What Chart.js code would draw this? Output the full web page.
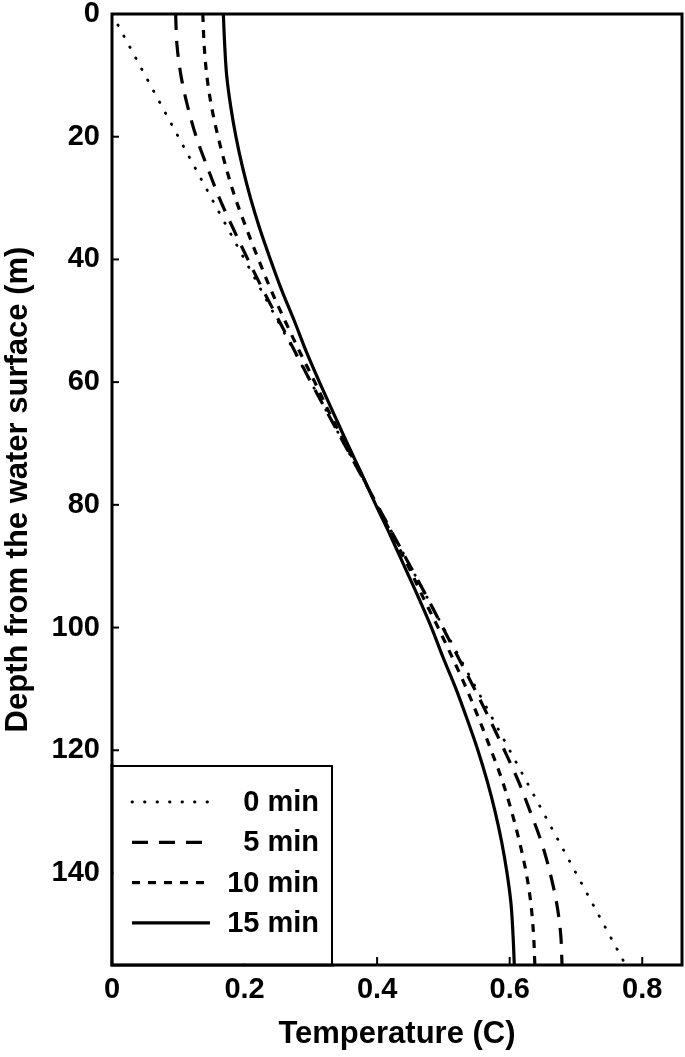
<!DOCTYPE html>
<html><head><meta charset="utf-8">
<script src="https://cdn.jsdelivr.net/npm/chart.js@4.4.1/dist/chart.umd.min.js"></script>
<style>html,body{margin:0;padding:0;background:#fff;}#wrap{width:685px;height:1057px;position:relative;}</style>
</head><body><div id="wrap"><canvas id="c" width="685" height="1057"></canvas></div>
<script>
// ---- data ----
const depths = [0,5,10,15,20,25,30,35,40,45,50,55,60,65,70,75,77.5,80,85,90,95,100,105,110,115,120,125,130,135,140,145,150,155];
const depth0 = [0, 155];
const temp0min = [0, 0.775];
const temp5min = [0.096,0.098,0.104,0.114,0.127,0.144,0.162,0.183,0.205,0.228,0.252,0.276,0.300,0.325,0.350,0.375,0.3875,
                  0.400,0.425,0.450,0.475,0.499,0.523,0.547,0.570,0.592,0.613,0.631,0.648,0.661,0.671,0.677,0.679];
const temp10min = [0.137,0.139,0.143,0.150,0.160,0.172,0.186,0.203,0.221,0.240,0.261,0.283,0.306,0.328,0.352,0.376,0.3875,
                   0.399,0.423,0.447,0.469,0.492,0.514,0.535,0.554,0.572,0.589,0.603,0.615,0.625,0.632,0.636,0.638];
const temp15min = [0.168,0.170,0.173,0.179,0.187,0.197,0.209,0.223,0.239,0.256,0.275,0.293,0.313,0.334,0.355,0.377,0.3875,
                   0.398,0.420,0.441,0.462,0.482,0.500,0.519,0.536,0.552,0.566,0.578,0.588,0.596,0.602,0.605,0.607];
const seriesLabels = ['0 min', '5 min', '10 min', '15 min'];
const xTickValues = [0, 0.2, 0.4, 0.6, 0.8];
const yTickValues = [0, 20, 40, 60, 80, 100, 120, 140];
const xRange = [0, 0.86];
const yRange = [0, 155];
const xTitle = 'Temperature (C)';
const yTitle = 'Depth from the water surface (m)';

const FONT = "'Liberation Sans', Arial, Helvetica, sans-serif";
const pts = (ds, ts) => ds.map((d, i) => ({x: ts[i], y: d}));

const styles = [
  {borderDash: [0.5, 12], borderWidth: 2.8, borderCapStyle: 'round'},
  {borderDash: [16, 11], borderWidth: 3.2, borderCapStyle: 'butt'},
  {borderDash: [8, 8], borderWidth: 3.2, borderCapStyle: 'butt'},
  {borderDash: [], borderWidth: 3.2, borderCapStyle: 'butt'}
];
const seriesData = [pts(depth0, temp0min), pts(depths, temp5min), pts(depths, temp10min), pts(depths, temp15min)];

const datasets = seriesData.map((d, i) => Object.assign({
  label: seriesLabels[i], data: d, borderColor: '#000', backgroundColor: '#000',
  pointRadius: 0, fill: false, cubicInterpolationMode: 'monotone'
}, styles[i]));

const framePlugin = {
  id: 'frame',
  afterDatasetsDraw(chart) {
    const {ctx, chartArea: a, scales: {x, y}} = chart;
    ctx.save();
    ctx.strokeStyle = '#000';
    ctx.setLineDash([]);
    ctx.lineWidth = 2;
    xTickValues.forEach(v => { const p = x.getPixelForValue(v); ctx.beginPath(); ctx.moveTo(p, a.bottom); ctx.lineTo(p, a.bottom - 8); ctx.stroke(); });
    yTickValues.forEach(v => { const p = y.getPixelForValue(v); ctx.beginPath(); ctx.moveTo(a.left, p); ctx.lineTo(a.left + 7, p); ctx.stroke(); });
    ctx.lineWidth = 3;
    ctx.strokeRect(a.left, a.top, a.right - a.left, a.bottom - a.top);
    // legend
    const bx = a.left, bw = 220, bh = 199, by = a.bottom - bh;
    ctx.fillStyle = '#fff';
    ctx.fillRect(bx + 1.5, by, bw, bh - 1.5);
    ctx.lineWidth = 2;
    ctx.strokeRect(bx, by, bw, bh);
    ctx.lineWidth = 3;
    ctx.beginPath(); ctx.moveTo(a.left, by - 2); ctx.lineTo(a.left, a.bottom); ctx.lineTo(bx + bw + 2, a.bottom); ctx.stroke();
    ctx.font = 'bold 29px ' + FONT;
    ctx.textAlign = 'right';
    ctx.textBaseline = 'middle';
    ctx.fillStyle = '#000';
    chart.data.datasets.forEach((ds, i) => {
      const ly = by + 36 + i * 40.3;
      ctx.save();
      ctx.setLineDash(ds.borderDash || []);
      ctx.lineCap = ds.borderCapStyle || 'butt';
      ctx.lineWidth = ds.borderWidth;
      ctx.beginPath(); ctx.moveTo(bx + 20, ly); ctx.lineTo(bx + 98, ly); ctx.stroke();
      ctx.restore();
      ctx.fillText(ds.label, bx + 207, ly + 1);
    });
    ctx.restore();
  }
};

new Chart(document.getElementById('c'), {
  type: 'line',
  data: {datasets},
  plugins: [framePlugin],
  options: {
    responsive: false,
    animation: false,
    indexAxis: 'y',
    layout: {padding: {top: 0, right: 3, left: 0, bottom: 0}},
    plugins: {legend: {display: false}, tooltip: {enabled: false}},
    scales: {
      x: {
        type: 'linear', min: xRange[0], max: xRange[1],
        grid: {display: false, drawTicks: false}, border: {display: false},
        ticks: {stepSize: 0.2, includeBounds: false, padding: 8, color: '#000', font: {family: FONT, size: 29, weight: 'bold'}},
        title: {display: true, text: xTitle, color: '#000', padding: {top: 0, bottom: 4}, font: {family: FONT, size: 31, weight: 'bold'}},
        afterFit(s) { s.height = 92; s.paddingLeft = 0; s.paddingRight = 3; }
      },
      y: {
        type: 'linear', reverse: true, min: yRange[0], max: yRange[1],
        grid: {display: false, drawTicks: false}, border: {display: false},
        ticks: {stepSize: 20, includeBounds: false, padding: 12, color: '#000', font: {family: FONT, size: 29, weight: 'bold'}},
        title: {display: true, text: yTitle, color: '#000', padding: {top: 0, bottom: 0}, font: {family: FONT, size: 31, weight: 'bold'}},
        afterFit(s) { s.width = 112; s.paddingTop = 14; s.paddingBottom = 0; }
      }
    }
  }
});
</script></body></html>
